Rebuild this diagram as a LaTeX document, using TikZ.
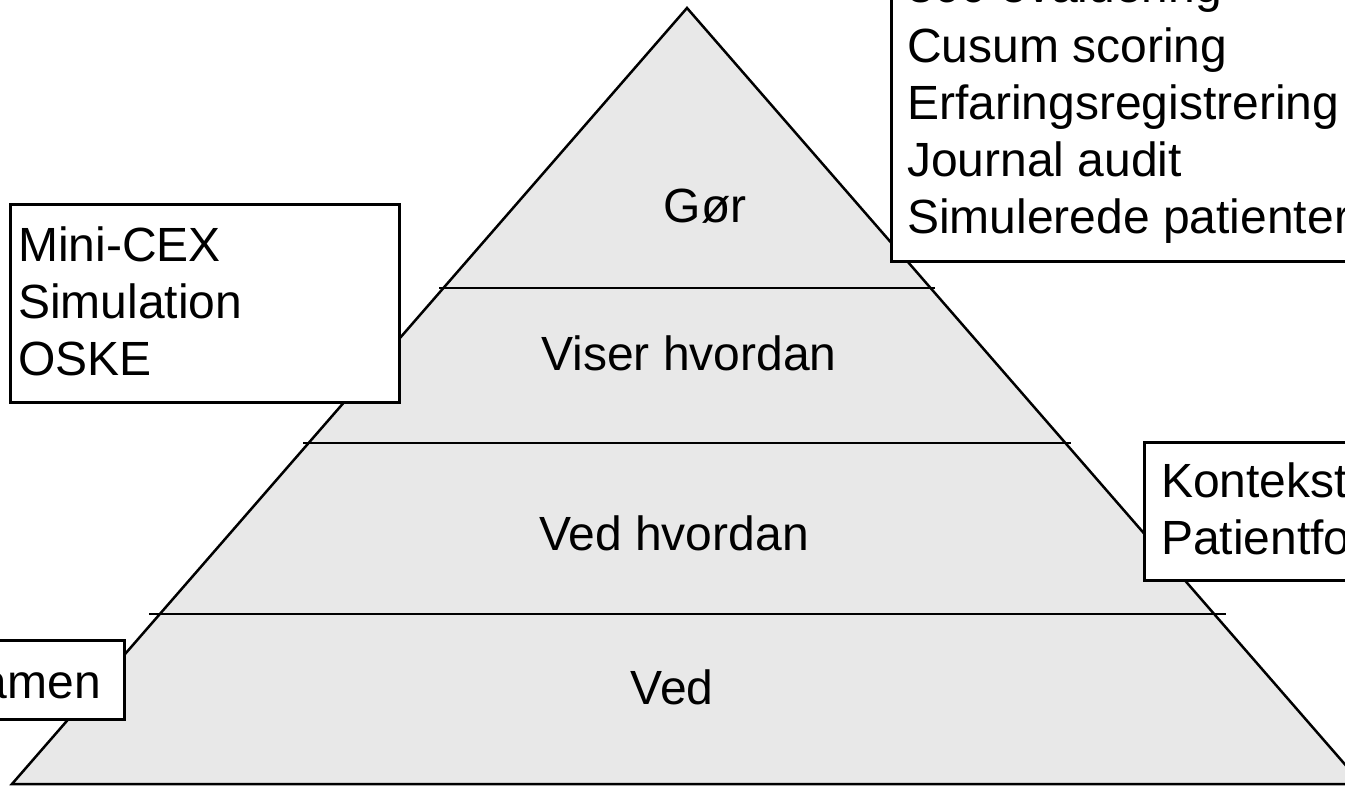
\documentclass[tikz,border=0pt]{standalone}
\usepackage{fontspec}
\setmainfont{Liberation Sans}
\definecolor{pyr}{RGB}{232,232,232}
\begin{document}
\begin{tikzpicture}[x=1pt,y=-1pt,
  edge/.style={line width=2.5pt},
  box/.style={draw, line width=2.7pt, fill=white, inner sep=0pt, anchor=north west},
  lbl/.style={inner sep=0pt, anchor=base, font=\fontsize{48}{57}\selectfont},
  txt/.style={inner sep=0pt, anchor=base west, font=\fontsize{48}{57}\selectfont}]
\useasboundingbox (0,0) rectangle (1345,786);
\clip (0,0) rectangle (1345,786);
% pyramid
\coordinate (apex) at (687,8);
\coordinate (bl) at (12,784);
\coordinate (br) at (1362,784);
\fill[pyr] (apex) -- (bl) -- (br) -- cycle;
\draw[edge, line join=miter] (apex) -- (bl) -- (br) -- cycle;
% level lines
\coordinate (l1a) at (439,288); \coordinate (l1b) at (935,288);
\coordinate (l2a) at (303,443); \coordinate (l2b) at (1071,443);
\coordinate (l3a) at (149,614); \coordinate (l3b) at (1226,614);
\draw[edge] (l1a) -- (l1b);
\draw[edge] (l2a) -- (l2b);
\draw[edge] (l3a) -- (l3b);
% level labels
\node[lbl] (gor) at (705,223) {Gør};
\node[lbl] (viser) at (689,371) {Viser hvordan};
\node[lbl] (vedhv) at (674,550) {Ved hvordan};
\node[lbl] (ved) at (672,704) {Ved};
% boxes
\node[box, minimum width=389pt, minimum height=198pt] (bmini) at (9,203) {};
\node[box, minimum width=530pt, minimum height=320pt] (btop) at (890,-60) {};
\node[box, minimum width=280pt, minimum height=138pt] (bright) at (1143,441) {};
\node[box, minimum width=223pt, minimum height=79pt] (bleft) at (-100,639) {};
% box texts
\node[txt] (m1) at (18,262) {Mini-CEX};
\node[txt] (m2) at (18,319) {Simulation};
\node[txt] (m3) at (18,376) {OSKE};
\node[txt] (t0) at (907,3) {360 evaluering};
\node[txt] (t1) at (907,63) {Cusum scoring};
\node[txt] (t2) at (907,120) {Erfaringsregistrering};
\node[txt] (t3) at (907,177) {Journal audit};
\node[txt] (t4) at (907,234) {Simulerede patienter};
\node[txt] (k1) at (1161,497) {Kontekst};
\node[txt] (k2) at (1161,554) {Patientfo};
\node[inner sep=0pt, anchor=base east, font=\fontsize{48}{57}\selectfont] (ex) at (101,698) {amen};
\end{tikzpicture}
\end{document}
